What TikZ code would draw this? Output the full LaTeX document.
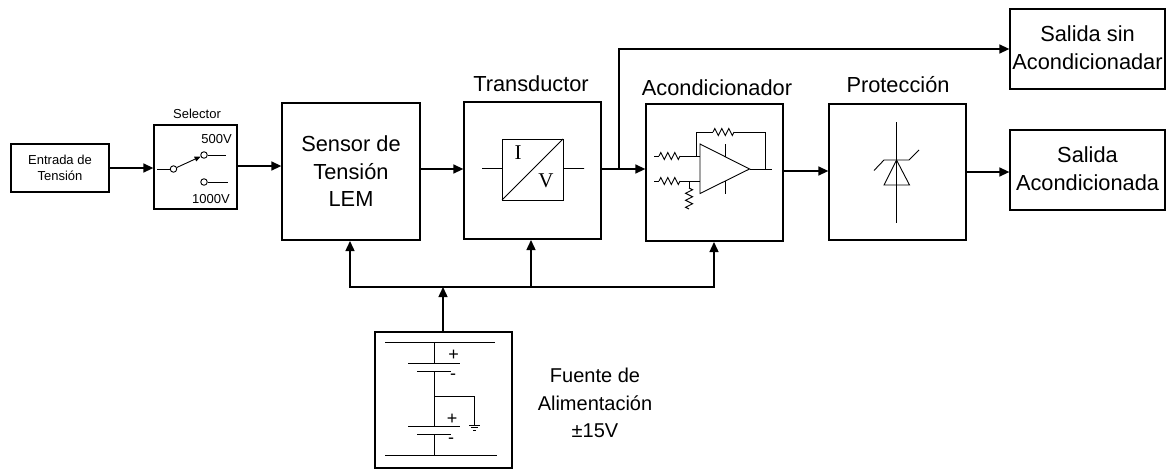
\documentclass[tikz,border=0pt]{standalone}
\usepackage{fontspec}
\setmainfont{Liberation Sans}
\newfontfamily\serifont{Liberation Serif}
\usetikzlibrary{arrows.meta,decorations.pathmorphing}
\tikzset{
  x=1pt,y=-1pt,
  block/.style={draw,line width=1.3pt,minimum width=#1,inner sep=0pt,align=center,fill=white},
  conn/.style={line width=1.4pt,-{Triangle[length=10pt,width=9pt]}},
  thin line/.style={line width=0.9pt},
  res/.style={thin line,decorate,decoration={zigzag,segment length=7pt,amplitude=3.5pt}},
  term/.style={circle,draw,line width=0.9pt,inner sep=0pt,minimum size=6.5pt,fill=white},
  lab/.style={inner sep=0pt,align=center,font=\fontsize{21.8}{27.5}\selectfont},
  labf/.style={inner sep=0pt,align=center,font=\fontsize{20}{27.5}\selectfont},
  small/.style={inner sep=0pt,align=center,font=\fontsize{13}{16}\selectfont},
  pm/.style={inner sep=0pt,font=\fontsize{18}{18}\selectfont},
  iv/.style={inner sep=0pt,font=\serifont\fontsize{21}{21}\selectfont},
}
\begin{document}
\begin{tikzpicture}[line join=miter]
\useasboundingbox (0,0) rectangle (1166,469);
% blocks
\node[block=98pt,minimum height=48pt,small] (ent) at (60,168) {Entrada de\\Tensión};
\node[block=83pt,minimum height=84pt] (sel) at (195.5,167) {};
\node[block=138pt,minimum height=137pt,lab] (sen) at (351,171.5) {Sensor de\\Tensión\\LEM};
\node[block=137pt,minimum height=137pt] (tra) at (532.5,170.5) {};
\node[block=137pt,minimum height=137pt] (aco) at (714.5,172.5) {};
\node[block=137pt,minimum height=136pt] (pro) at (897.5,172) {};
\node[block=155pt,minimum height=80pt] (sal) at (1087.5,170) {};
\node[block=155pt,minimum height=80pt] (sin) at (1087.5,49) {};
\node[lab] (saltxt) at (1087.5,168.5) {Salida\\Acondicionada};
\node[lab] (sintxt) at (1087.5,47.5) {Salida sin\\Acondicionadar};
\node[block=137pt,minimum height=136pt] (fue) at (443.5,400) {};
% titles
\node[small] (tsel) at (197,114) {Selector};
\node[lab] (ttra) at (531,84) {Transductor};
\node[lab] (taco) at (717,88) {Acondicionador};
\node[lab] (tpro) at (898,85) {Protección};
\node[labf] (tfue) at (595,403) {Fuente de\\Alimentación\\±15V};
% connectors
\coordinate (tap) at (619,169);
\draw[conn] (ent.east) -- (sel.west |- ent.east);
\draw[conn] (sel.east |- 0,166) -- (sen.west |- 0,166);
\draw[conn] (sen.east |- 0,169) -- (tra.west |- 0,169);
\draw[conn] (tra.east |- 0,169) -- (aco.west |- 0,169);
\draw[conn] (tap) |- (sin.west);
\draw[conn] (aco.east |- 0,171) -- (pro.west |- 0,171);
\draw[conn] (pro.east |- 0,172) -- (sal.west |- 0,172);
\coordinate (bus) at (443,287);
\draw[conn] (fue.north -| bus) -- (bus);
\draw[conn] (bus) -| (350,241);
\draw[conn] (bus) -| (531,240);
\draw[conn] (bus) -| (714,242);
% selector interior
\node[term] (s0) at (173.5,169) {};
\node[term] (s1) at (204,155) {};
\node[term] (s2) at (204,182) {};
\node[small] (t500) at (216.5,139) {500V};
\node[small] (t1000) at (211,199) {1000V};
\coordinate (s0l) at (157,169);
\coordinate (s1r) at (226,155);
\coordinate (s2r) at (228,182);
\draw[thin line] (s0l) -- (s0) (s1) -- (s1r) (s2) -- (s2r);
\draw[thin line,-{Triangle[length=6pt,width=5pt]}] (s0) -- (s1);
% I/V
\draw[thin line] (502,139) rectangle (563,200);
\draw[thin line] (502,200) -- (563,139) (482,168.5) -- (502,168.5) (563,168.5) -- (584,168.5);
\node[iv] (ti) at (518,153) {I};
\node[iv] (tv) at (546,181) {V};
% op amp
\draw[thin line] (700,144) -- (749.5,169) -- (700,193.5) -- cycle;
\draw[thin line] (725,144) -- (725,157) (725,181) -- (725,194);
\draw[thin line] (654,156) -- (659,156);
\draw[res] (659,156) -- (680,156);
\draw[thin line] (680,156) -- (700,156);
\draw[thin line] (654,181) -- (659,181);
\draw[res] (659,181) -- (680,181);
\draw[thin line] (680,181) -- (700,181);
\draw[thin line] (689,181) -- (689,188);
\draw[res] (689,188) -- (689,209);
\draw[thin line] (696,156) -- (696,132) -- (713,132);
\draw[res] (713,132) -- (734,132);
\draw[thin line] (734,132) -- (765,132) -- (765,169);
\draw[thin line] (749.5,169) -- (772,169);
% zener
\draw[thin line] (896.5,122) -- (896.5,223);
\draw[thin line] (896.5,160) -- (884,185) -- (909.5,185) -- cycle;
\draw[thin line] (874,170.5) -- (884,160) -- (909,160) -- (919,150);
% battery
\draw[thin line] (385,342) -- (495,342);
\draw[thin line] (434,342) -- (434,363.5);
\draw[thin line] (408,363.5) -- (460,363.5);
\draw[thin line] (417,371.5) -- (451,371.5);
\draw[thin line] (434,371.5) -- (434,426);
\draw[thin line] (408,426) -- (460,426);
\draw[thin line] (417,434.5) -- (451,434.5);
\draw[thin line] (434,434.5) -- (434,455.5);
\draw[thin line] (385,455.5) -- (497,455.5);
\draw[thin line] (434,396.5) -- (474.5,396.5) -- (474.5,425);
\draw[thin line] (469,425) -- (480,425) (471,427.5) -- (478,427.5) (473,430) -- (476,430);
\node[pm] (p1) at (453.5,355) {+};
\node[pm] (m1) at (453,377) {-};
\node[pm] (p2) at (452,419) {+};
\node[pm] (m2) at (451,441) {-};
\end{tikzpicture}
\end{document}
